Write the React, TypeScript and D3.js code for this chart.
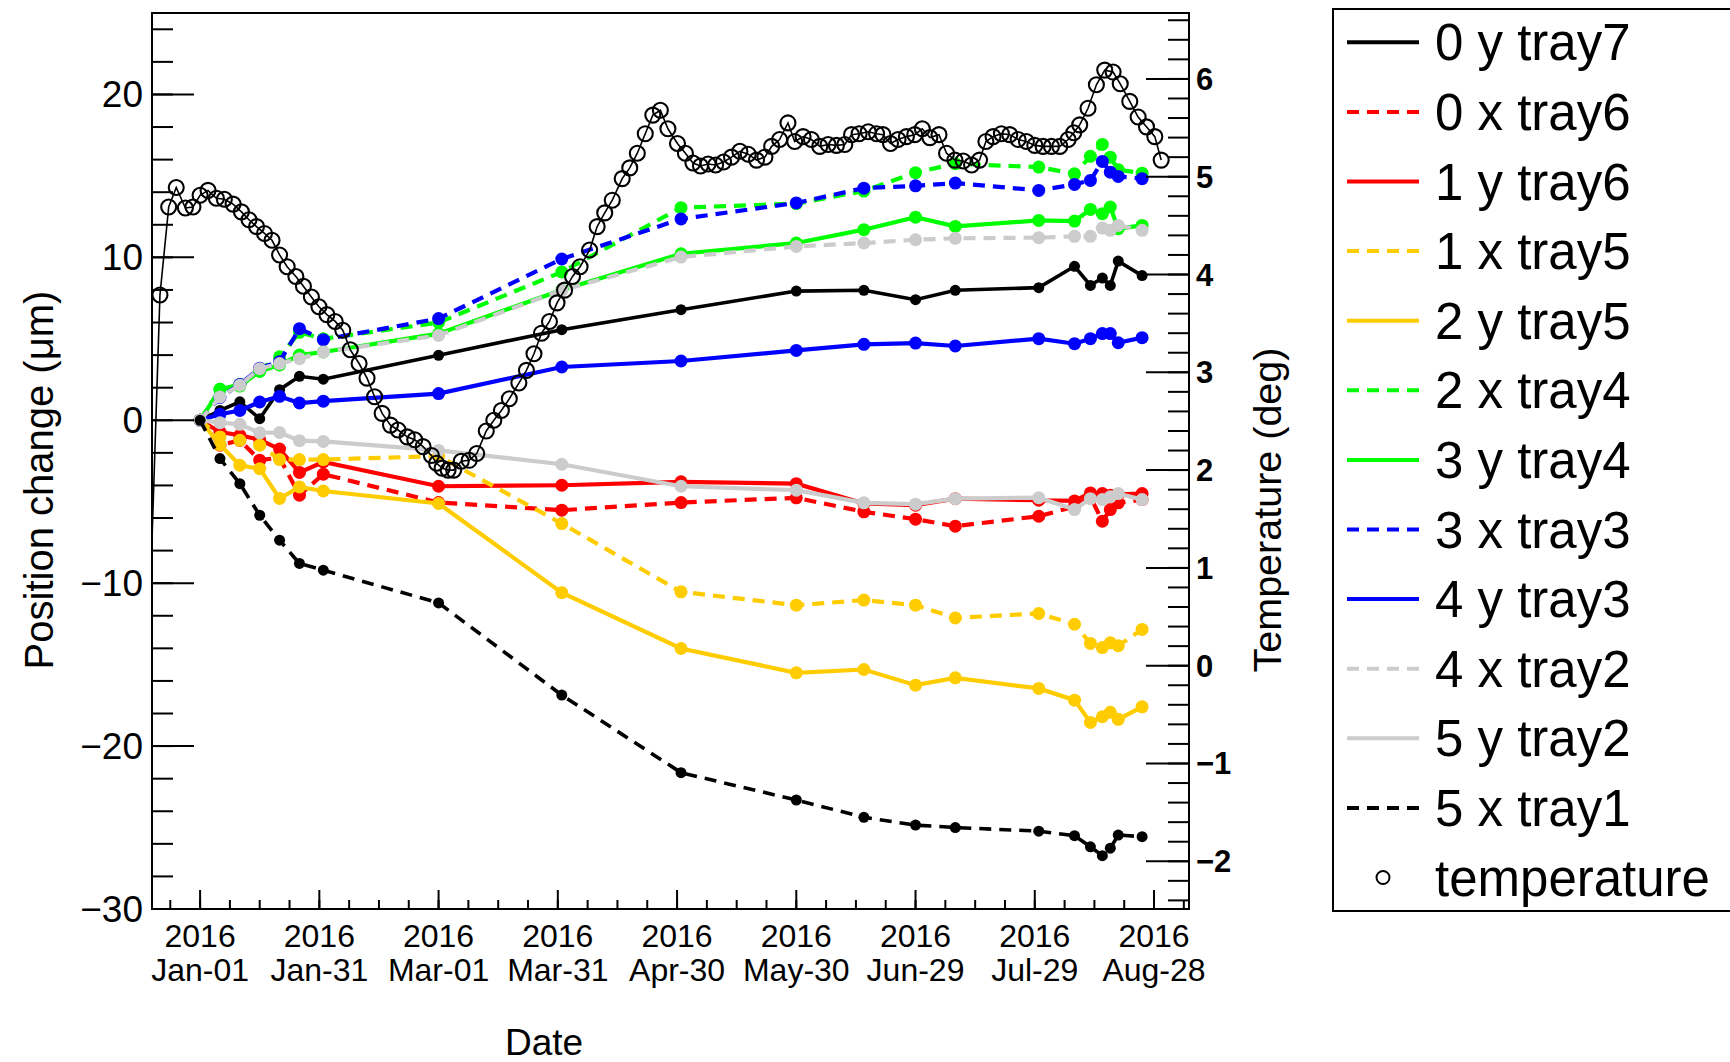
import React from "react";
import * as d3 from "d3";

// ---------- data ----------
const measDays = [0, 5, 10, 15, 20, 25, 31, 60, 91, 121, 150, 167, 180, 190, 211, 220, 224, 227, 229, 231, 237];

const s0y7 = [0, 0.6, 1.13, 0.1, 1.88, 2.7, 2.52, 3.99, 5.56, 6.79, 7.93, 7.98, 7.4, 7.98, 8.14, 9.45, 8.28, 8.73, 8.28, 9.77, 8.88];
const s0x6 = [0, -1.53, -1.23, -2.45, -2.3, -4.6, -3.31, -5.05, -5.52, -5.05, -4.76, -5.62, -6.07, -6.5, -5.89, -5.3, -4.7, -6.2, -5.48, -5.07, -4.87];
const s1y6 = [0, -0.72, -0.92, -1.2, -1.77, -3.2, -2.56, -4.05, -3.99, -3.78, -3.89, -5.11, -5.21, -4.81, -4.91, -4.95, -4.46, -4.5, -4.6, -4.55, -4.5];
const s1x5 = [0, -1.02, -1.23, -1.53, -2.41, -2.41, -2.41, -2.2, -6.34, -10.53, -11.35, -11.04, -11.35, -12.13, -11.86, -12.52, -13.7, -13.95, -13.66, -13.84, -12.84];
const s2y5 = [0, -1.5, -2.76, -2.97, -4.8, -4.09, -4.34, -5.11, -10.58, -14.01, -15.5, -15.3, -16.26, -15.81, -16.46, -17.18, -18.55, -18.2, -17.93, -18.36, -17.59];
const s2x4 = [0, 1.9, 2.2, 3.1, 3.9, 5.4, 5.0, 6.0, 9.1, 13.05, 13.3, 14.07, 15.2, 15.75, 15.54, 15.13, 16.2, 16.93, 16.15, 15.38, 15.17];
const s3y4 = [0, 1.9, 2.1, 3.0, 3.4, 4.0, 4.19, 5.32, 8.0, 10.22, 10.88, 11.7, 12.47, 11.9, 12.27, 12.23, 12.94, 12.68, 13.09, 11.76, 11.96];
const s3x3 = [0, 1.4, 2.2, 3.2, 3.6, 5.62, 4.95, 6.24, 9.9, 12.36, 13.34, 14.25, 14.39, 14.56, 14.11, 14.48, 14.72, 15.89, 15.23, 14.97, 14.83];
const s4y3 = [0, 0.37, 0.6, 1.12, 1.47, 1.06, 1.17, 1.64, 3.27, 3.64, 4.29, 4.66, 4.74, 4.56, 5.01, 4.7, 5.01, 5.32, 5.32, 4.76, 5.07];
const s4x2 = [0, 1.43, 2.15, 3.17, 3.48, 3.78, 4.19, 5.21, 7.98, 10.02, 10.67, 10.88, 11.08, 11.17, 11.21, 11.29, 11.29, 11.8, 11.66, 11.96, 11.66];
const s5y2 = [0, -0.15, -0.25, -0.77, -0.75, -1.25, -1.3, -1.85, -2.7, -4.05, -4.29, -5.07, -5.15, -4.81, -4.75, -5.48, -4.81, -4.87, -4.7, -4.5, -4.87];
const s5x1 = [0, -2.35, -3.89, -5.83, -7.36, -8.79, -9.2, -11.21, -16.87, -21.63, -23.31, -24.37, -24.85, -25.0, -25.22, -25.5, -26.18, -26.73, -26.27, -25.46, -25.56];

const seriesNames = ["0 y tray7", "0 x tray6", "1 y tray6", "1 x tray5", "2 y tray5", "2 x tray4", "3 y tray4", "3 x tray3", "4 y tray3", "4 x tray2", "5 y tray2", "5 x tray1"];
const seriesValues = [s0y7, s0x6, s1y6, s1x5, s2y5, s2x4, s3y4, s3x3, s4y3, s4x2, s5y2, s5x1];
const seriesColors = ["#000000", "#ff0000", "#ff0000", "#ffcc00", "#ffcc00", "#00ff00", "#00ff00", "#0000ff", "#0000ff", "#cccccc", "#cccccc", "#000000"];
const seriesDashed = [false, true, false, true, false, true, false, true, false, true, false, true];

const tempDays = [-16, -10.1, -7.9, -6.0, -3.7, -1.8, 0, 2.0, 4.1, 6.1, 8.3, 10.4, 12.3, 14.2, 16.2, 18.1, 20.0, 21.9, 24.1, 26, 28, 29.9, 31.9, 34, 35.9, 37.8, 40, 42, 43.9, 45.8, 47.9, 49.8, 52.1, 54, 56.1, 58.2, 59.5, 60.9, 62.4, 63.8, 65.7, 67.7, 69.6, 72, 73.9, 75.8, 77.8, 80.2, 82.1, 84, 85.9, 87.9, 89.8, 91.7, 93.7, 95.6, 98, 99.9, 101.8, 103.7, 106.2, 108.1, 110, 112, 113.9, 115.8, 117.7, 120.1, 122.1, 124, 125.9, 127.8, 129.7, 131.7, 133.7, 135.8, 137.9, 140, 142.1, 143.8, 145.8, 147.9, 149.6, 151.7, 153.8, 155.9, 158, 160.1, 162.2, 163.9, 165.8, 168.1, 170.2, 171.8, 173.7, 175.6, 177.7, 179.8, 181.7, 183.6, 185.9, 187.8, 189.9, 192, 194.1, 196.1, 197.7, 199.5, 201.6, 203.7, 205.8, 207.9, 210, 212.1, 214.2, 216.3, 218.4, 219.8, 221.3, 223.4, 225.5, 227.6, 229.7, 231.5, 233.9, 236, 238.1, 240.2, 241.8];
const tempValues = [-3.6, 3.79, 4.69, 4.89, 4.68, 4.69, 4.81, 4.86, 4.78, 4.77, 4.72, 4.64, 4.56, 4.49, 4.42, 4.35, 4.20, 4.08, 3.98, 3.88, 3.77, 3.67, 3.59, 3.52, 3.43, 3.23, 3.09, 2.94, 2.75, 2.58, 2.46, 2.41, 2.34, 2.31, 2.24, 2.15, 2.07, 2.02, 2.0, 2.0, 2.09, 2.10, 2.17, 2.40, 2.51, 2.61, 2.73, 2.89, 3.02, 3.19, 3.40, 3.52, 3.71, 3.84, 3.98, 4.08, 4.25, 4.49, 4.63, 4.76, 4.98, 5.09, 5.24, 5.44, 5.63, 5.68, 5.49, 5.34, 5.24, 5.14, 5.11, 5.13, 5.12, 5.15, 5.20, 5.26, 5.23, 5.17, 5.20, 5.31, 5.38, 5.55, 5.36, 5.41, 5.38, 5.31, 5.33, 5.32, 5.33, 5.43, 5.44, 5.46, 5.44, 5.43, 5.34, 5.38, 5.41, 5.43, 5.49, 5.40, 5.43, 5.24, 5.17, 5.16, 5.12, 5.17, 5.36, 5.41, 5.44, 5.43, 5.38, 5.36, 5.32, 5.31, 5.31, 5.31, 5.38, 5.45, 5.53, 5.70, 5.94, 6.09, 6.07, 5.95, 5.77, 5.61, 5.51, 5.41, 5.17];

const xTickDays = [0, 30, 60, 90, 120, 150, 180, 210, 240];
const xTickYear = ["2016", "2016", "2016", "2016", "2016", "2016", "2016", "2016", "2016"];
const xTickLabels = ["Jan-01", "Jan-31", "Mar-01", "Mar-31", "Apr-30", "May-30", "Jun-29", "Jul-29", "Aug-28"];
const yTicks = [-30, -20, -10, 0, 10, 20];
const tTicks = [-2, -1, 0, 1, 2, 3, 4, 5, 6];

// ---------- layout ----------
const W = 1730, H = 1062;
const L = 152, R = 1189, T = 13, B = 909;
const DAY = 864e5;
const T0 = Date.UTC(2016, 0, 1);
const toDate = (d: number) => new Date(T0 + d * DAY);

const x = d3.scaleUtc().domain([toDate(-12.1), toDate(248.8)]).range([L, R]);
const y = d3.scaleLinear().domain([-30, 25]).range([B, T]);
const yT = d3.scaleLinear().domain([-2.488, 6.674]).range([B, T]);

const FONT = "'Liberation Sans', Arial, Helvetica, sans-serif";
const minus = (v: number) => (v < 0 ? "\u2212" + Math.abs(v) : String(v));

export default function App() {
  const line = d3.line<[number, number]>().x((d) => x(toDate(d[0]))).y((d) => y(d[1]));
  const tline = d3.line<[number, number]>().x((d) => x(toDate(d[0]))).y((d) => yT(d[1]));

  const xMinor = d3.range(-7.5, 249, 7.5);
  const yMinor = d3.range(-30, 25.01, 2);
  const tMinor = d3.range(-2.4, 6.61, 0.2);

  const tempPts: [number, number][] = tempDays.map((d, i) => [d, tempValues[i]]);

  return (
    <svg width={W} height={H} style={{ position: "absolute", left: 0, top: 0, background: "#fff" }} fontFamily={FONT}>
      <defs>
        <clipPath id="plotclip">
          <rect x={L} y={T} width={R - L} height={B - T} />
        </clipPath>
      </defs>
      <rect x={0} y={0} width={W} height={H} fill="#fff" />

      {/* series */}
      <g clipPath="url(#plotclip)">
        {seriesValues.map((vals, si) => {
          const pts: [number, number][] = measDays.map((d, i) => [d, vals[i]]);
          const col = seriesColors[si];
          const r = col === "#000000" ? 5.5 : 6.5;
          return (
            <g key={si}>
              <path d={line(pts) || ""} fill="none" stroke={col} strokeWidth={col === "#000000" ? 3.6 : 4.2} strokeDasharray={seriesDashed[si] ? "12 8" : undefined} />
              {pts.map((p, i) => (
                <circle key={i} cx={x(toDate(p[0]))} cy={y(p[1])} r={r} fill={col} />
              ))}
            </g>
          );
        })}
        {/* temperature */}
        <path d={tline(tempPts) || ""} fill="none" stroke="#000" strokeWidth={1.6} />
        {tempPts.map((p, i) => (
          <circle key={i} cx={x(toDate(p[0]))} cy={yT(p[1])} r={7.5} fill="none" stroke="#000" strokeWidth={2.1} />
        ))}
      </g>

      {/* frame */}
      <rect x={L} y={T} width={R - L} height={B - T} fill="none" stroke="#000" strokeWidth={2} />

      {/* x axis */}
      <g>
        {xMinor.map((d, i) => (
          <line key={"xm" + i} x1={x(toDate(d))} x2={x(toDate(d))} y1={B} y2={B - 9} stroke="#000" strokeWidth={2} />
        ))}
        {xTickDays.map((d, i) => (
          <g key={"xt" + i}>
            <line x1={x(toDate(d))} x2={x(toDate(d))} y1={B} y2={B - 19} stroke="#000" strokeWidth={2} />
            <text x={x(toDate(d))} y={947} fontSize={32} textAnchor="middle">{xTickYear[i]}</text>
            <text x={x(toDate(d))} y={981} fontSize={32} textAnchor="middle">{xTickLabels[i]}</text>
          </g>
        ))}
        <text x={544} y={1055} fontSize={37} textAnchor="middle">Date</text>
      </g>

      {/* left y axis */}
      <g>
        {yMinor.map((v, i) => (
          <line key={"ym" + i} x1={L} x2={L + 21} y1={y(v)} y2={y(v)} stroke="#000" strokeWidth={2} />
        ))}
        {yTicks.map((v, i) => (
          <g key={"yt" + i}>
            <line x1={L} x2={L + 42} y1={y(v)} y2={y(v)} stroke="#000" strokeWidth={2} />
            <text x={143} y={y(v) + 13} fontSize={37} textAnchor="end">{minus(v)}</text>
          </g>
        ))}
        <text transform={`translate(53,480) rotate(-90)`} fontSize={40} textAnchor="middle">Position change (μm)</text>
      </g>

      {/* right temperature axis */}
      <g>
        {tMinor.map((v, i) => (
          <line key={"tm" + i} x1={R} x2={R - 21} y1={yT(v)} y2={yT(v)} stroke="#000" strokeWidth={2} />
        ))}
        {tTicks.map((v, i) => (
          <g key={"tt" + i}>
            <line x1={R} x2={R - 43} y1={yT(v)} y2={yT(v)} stroke="#000" strokeWidth={2} />
            <text x={1196} y={yT(v) + 11} fontSize={31} textAnchor="start" fontWeight="bold">{minus(v)}</text>
          </g>
        ))}
        <text transform={`translate(1281,510) rotate(-90)`} fontSize={39.5} textAnchor="middle">Temperature (deg)</text>
      </g>

      {/* legend */}
      <g>
        <rect x={1333} y={9} width={410} height={902} fill="#fff" stroke="#000" strokeWidth={2} />
        {seriesNames.map((n, i) => {
          const cy = 42.3 + i * 69.6;
          return (
            <g key={"lg" + i}>
              <line x1={1347} x2={1419} y1={cy} y2={cy} stroke={seriesColors[i]} strokeWidth={4} strokeDasharray={seriesDashed[i] ? "12 8" : undefined} />
              <text x={1435} y={cy + 18} fontSize={51}>{n}</text>
            </g>
          );
        })}
        <circle cx={1383} cy={42.3 + 12 * 69.6} r={6.5} fill="none" stroke="#000" strokeWidth={2} />
        <text x={1435} y={42.3 + 12 * 69.6 + 18} fontSize={51}>temperature</text>
      </g>
    </svg>
  );
}
